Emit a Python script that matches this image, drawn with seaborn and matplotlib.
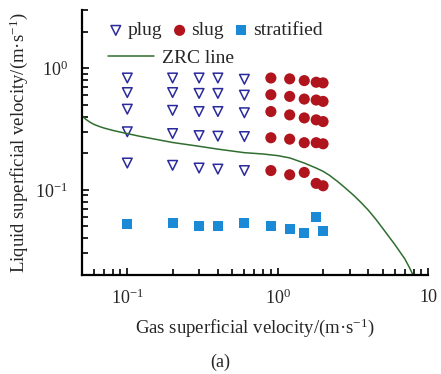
import numpy as np
import pandas as pd
import matplotlib
matplotlib.use('Agg')
import matplotlib.pyplot as plt
import matplotlib.ticker as mticker
import seaborn as sns

# plug flow points
plug_x = [0.1]*5 + [0.2]*5 + [0.3]*5 + [0.4]*5 + [0.6]*5
plug_y = [0.83, 0.63, 0.46, 0.30, 0.166,
          0.83, 0.63, 0.45, 0.29, 0.159,
          0.83, 0.62, 0.44, 0.279, 0.151,
          0.83, 0.62, 0.44, 0.276, 0.148,
          0.81, 0.60, 0.43, 0.274, 0.144]

# slug flow points
slug_x = [0.9]*5 + [1.2]*5 + [1.5]*5 + [1.8]*5 + [2.0]*5
slug_y = [0.83, 0.605, 0.44, 0.268, 0.144,
          0.817, 0.586, 0.413, 0.261, 0.133,
          0.79, 0.557, 0.39, 0.244, 0.139,
          0.766, 0.547, 0.376, 0.244, 0.113,
          0.757, 0.533, 0.364, 0.239, 0.108]

# stratified flow points
strat_x = [0.1, 0.2, 0.3, 0.4, 0.6, 0.9, 1.2, 1.5, 1.8, 2.0]
strat_y = [0.0526, 0.0533, 0.0507, 0.0507, 0.0533, 0.0507, 0.0476, 0.044, 0.0594, 0.046]

# ZRC transition line
zrc_x = [0.05, 0.053, 0.056, 0.06, 0.065, 0.07, 0.08, 0.09, 0.1, 0.12, 0.15, 0.2,
         0.3, 0.4, 0.6, 0.8, 1.0, 1.2, 1.5, 1.8, 2.0, 2.2, 2.5, 2.8, 3.2, 3.6, 4.0,
         4.5, 5.0, 6.0, 7.0, 7.5, 8.0]
zrc_y = [0.405, 0.38, 0.362, 0.345, 0.332, 0.322, 0.308, 0.298, 0.29, 0.276, 0.262,
         0.245, 0.228, 0.216, 0.202, 0.197, 0.191, 0.183, 0.166, 0.151, 0.142, 0.132,
         0.117, 0.104, 0.090, 0.078, 0.068, 0.057, 0.048, 0.0355, 0.027, 0.023, 0.0195]

x_ticks = [0.1, 1, 10]
x_ticklabels = ['$10^{-1}$', '$10^{0}$', '10']
y_ticks = [0.1, 1]
y_ticklabels = ['$10^{-1}$', '$10^{0}$']

sns.set_style('ticks')
plt.rcParams['font.family'] = ['Liberation Serif', 'DejaVu Serif']
plt.rcParams['mathtext.fontset'] = 'custom'
plt.rcParams['mathtext.rm'] = 'Liberation Serif'
plt.rcParams['mathtext.it'] = 'Liberation Serif:italic'

fig = plt.figure(figsize=(4.41, 3.74), dpi=100)
ax = fig.add_axes([0.186, 0.265, 0.785, 0.708])

plug = pd.DataFrame({'x': plug_x, 'y': plug_y})
slug = pd.DataFrame({'x': slug_x, 'y': slug_y})
strat = pd.DataFrame({'x': strat_x, 'y': strat_y})
zrc = pd.DataFrame({'x': zrc_x, 'y': zrc_y})

sns.scatterplot(data=plug, x='x', y='y', ax=ax, marker='v', s=48,
                facecolor='none', edgecolor='#2a2a9c', linewidth=1.1, label='plug')
sns.scatterplot(data=slug, x='x', y='y', ax=ax, marker='o', s=64,
                color='#b0141c', edgecolor='none', label='slug')
sns.scatterplot(data=strat, x='x', y='y', ax=ax, marker='s', s=50,
                color='#1a8ad6', edgecolor='none', label='stratified')
sns.lineplot(data=zrc, x='x', y='y', ax=ax, color='#2f6e2f', linewidth=1.1,
             label='ZRC line', sort=False)

ax.set_xscale('log')
ax.set_yscale('log')
ax.set_xlim(0.05, 10)
ax.set_ylim(0.02, 3)

ax.xaxis.set_major_locator(mticker.FixedLocator(x_ticks))
ax.xaxis.set_major_formatter(mticker.FixedFormatter(x_ticklabels))
ax.yaxis.set_major_locator(mticker.FixedLocator(y_ticks))
ax.yaxis.set_major_formatter(mticker.FixedFormatter(y_ticklabels))
ax.xaxis.set_minor_locator(mticker.LogLocator(base=10, subs=np.arange(2, 10)))
ax.yaxis.set_minor_locator(mticker.LogLocator(base=10, subs=np.arange(2, 10)))
ax.xaxis.set_minor_formatter(mticker.NullFormatter())
ax.yaxis.set_minor_formatter(mticker.NullFormatter())

ax.tick_params(which='both', direction='in', color='black', width=1.2)
ax.tick_params(which='major', length=5, labelsize=13, pad=10)
ax.tick_params(which='minor', length=4)

for side in ['top', 'right']:
    ax.spines[side].set_visible(False)
for side in ['left', 'bottom']:
    ax.spines[side].set_linewidth(1.6)
    ax.spines[side].set_color('black')

ax.set_xlabel('Gas superficial velocity/(m·s$^{-1}$)', fontsize=13.5, labelpad=6)
ax.set_ylabel('Liquid superficial velocity/(m·s$^{-1}$)', fontsize=13.5, labelpad=4)

handles, labels = ax.get_legend_handles_labels()
ax.get_legend().remove()
leg1 = ax.legend(handles[:3], labels[:3], loc='upper left', ncol=3, frameon=False,
                 fontsize=14, handletextpad=0.1, columnspacing=0.4,
                 bbox_to_anchor=(0.047, 0.985), borderaxespad=0, handlelength=1.0)
ax.add_artist(leg1)
ax.legend(handles[3:], labels[3:], loc='upper left', frameon=False, fontsize=14,
          handlelength=2.4, handletextpad=0.4, bbox_to_anchor=(0.052, 0.88),
          borderaxespad=0)

fig.text(0.5, 0.02, '(a)', ha='center', fontsize=13)

fig.savefig('out.png', dpi=100)
